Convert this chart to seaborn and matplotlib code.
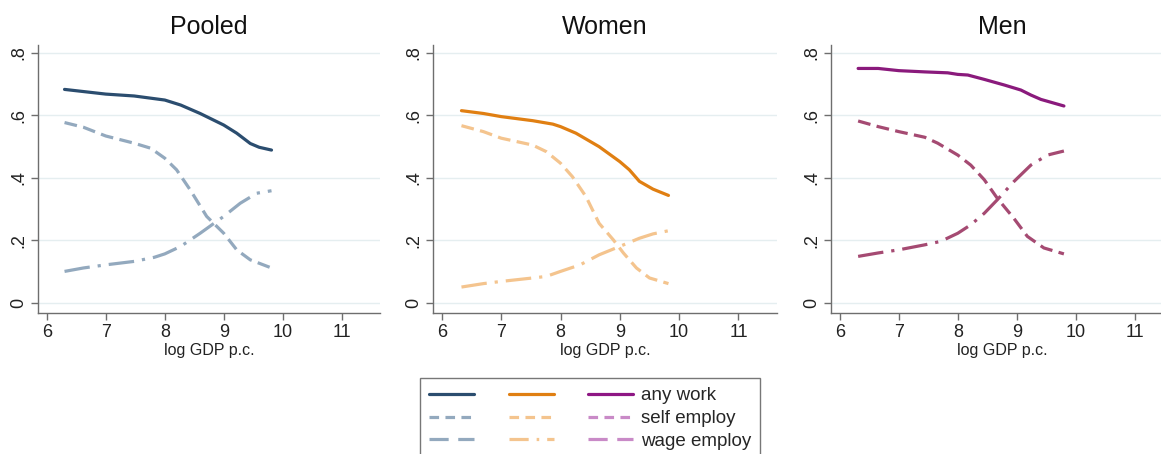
import numpy as np
import pandas as pd
import matplotlib
matplotlib.use("Agg")
import matplotlib.pyplot as plt
from matplotlib.lines import Line2D
import seaborn as sns

# ---- data: employment shares against log GDP per capita ----
panels = ["Pooled", "Women", "Men"]

pooled_any_x = [6.3, 7.0, 7.48, 8.0, 8.27, 8.6, 9.0, 9.22, 9.45, 9.6, 9.81]
pooled_any_y = [0.683, 0.668, 0.662, 0.649, 0.633, 0.606, 0.569, 0.543, 0.51, 0.498, 0.489]
pooled_self_x = [6.3, 6.62, 7.0, 7.48, 7.76, 8.0, 8.2, 8.43, 8.71, 9.0, 9.22, 9.45, 9.81]
pooled_self_y = [0.577, 0.562, 0.534, 0.511, 0.495, 0.463, 0.426, 0.362, 0.277, 0.223, 0.170, 0.138, 0.112]
pooled_wage_x = [6.3, 6.62, 7.0, 7.48, 7.82, 8.0, 8.27, 8.6, 9.0, 9.28, 9.56, 9.81]
pooled_wage_y = [0.101, 0.112, 0.122, 0.133, 0.146, 0.157, 0.181, 0.223, 0.277, 0.319, 0.351, 0.359]

women_any_x = [6.33, 6.7, 7.0, 7.53, 7.87, 8.0, 8.26, 8.65, 9.0, 9.16, 9.33, 9.56, 9.82]
women_any_y = [0.615, 0.606, 0.596, 0.583, 0.572, 0.564, 0.543, 0.5, 0.452, 0.426, 0.389, 0.364, 0.344]
women_self_x = [6.33, 6.7, 7.0, 7.53, 7.76, 8.0, 8.2, 8.43, 8.65, 8.89, 9.06, 9.28, 9.5, 9.82]
women_self_y = [0.567, 0.548, 0.527, 0.505, 0.484, 0.447, 0.404, 0.340, 0.255, 0.202, 0.160, 0.112, 0.080, 0.062]
women_wage_x = [6.33, 6.7, 7.0, 7.53, 7.76, 8.0, 8.33, 8.65, 9.0, 9.33, 9.56, 9.82]
women_wage_y = [0.051, 0.062, 0.069, 0.080, 0.085, 0.101, 0.122, 0.154, 0.181, 0.207, 0.221, 0.231]

men_any_x = [6.31, 6.65, 7.0, 7.44, 7.83, 8.0, 8.17, 8.45, 8.79, 9.07, 9.24, 9.41, 9.8]
men_any_y = [0.75, 0.75, 0.743, 0.739, 0.736, 0.731, 0.729, 0.715, 0.697, 0.681, 0.665, 0.651, 0.63]
men_self_x = [6.31, 6.65, 7.0, 7.44, 7.66, 8.0, 8.22, 8.45, 8.67, 8.95, 9.18, 9.46, 9.8]
men_self_y = [0.582, 0.564, 0.548, 0.530, 0.511, 0.473, 0.441, 0.394, 0.335, 0.271, 0.213, 0.176, 0.157]
men_wage_x = [6.31, 6.65, 7.0, 7.44, 7.71, 8.0, 8.22, 8.45, 8.67, 8.95, 9.24, 9.52, 9.8]
men_wage_y = [0.149, 0.160, 0.170, 0.186, 0.197, 0.223, 0.25, 0.287, 0.330, 0.388, 0.441, 0.473, 0.486]

series_names = ["any work", "self employ", "wage employ"]
x_ticks = [6, 7, 8, 9, 10, 11]
y_ticks = [0, 0.2, 0.4, 0.6, 0.8]
y_tick_labels = ["0", ".2", ".4", ".6", ".8"]

# colours: main line and self/wage lines per panel, plus legend swatches
line_colors = {
    "Pooled": ["#2b4d6f", "#93a9be", "#93a9be"],
    "Women": ["#e07f12", "#f4c48e", "#f4c48e"],
    "Men": ["#8a1a7c", "#a54a72", "#a54a72"],
}
legend_colors = {
    "Pooled": ["#2b4d6f", "#93a9be", "#93a9be"],
    "Women": ["#e07f12", "#f4c48e", "#f4c48e"],
    "Men": ["#8e1784", "#c98ac7", "#c98ac7"],
}
styles = ["-", (0, (4, 2)), (0, (8, 2.5, 1, 2.5))]
legend_styles = {
    "Pooled": ["-", (0, (3, 2)), (0, (6, 3))],
    "Women": ["-", (0, (3, 2)), (0, (6, 2.5, 0.8, 2.5))],
    "Men": ["-", (0, (3, 2)), (0, (6, 3))],
}

data = {
    "Pooled": [(pooled_any_x, pooled_any_y), (pooled_self_x, pooled_self_y), (pooled_wage_x, pooled_wage_y)],
    "Women": [(women_any_x, women_any_y), (women_self_x, women_self_y), (women_wage_x, women_wage_y)],
    "Men": [(men_any_x, men_any_y), (men_self_x, men_self_y), (men_wage_x, men_wage_y)],
}

sns.set_theme(style="white")
plt.rcParams["font.family"] = ["Liberation Sans", "DejaVu Sans"]

W, H = 1161, 454
fig = plt.figure(figsize=(W / 100, H / 100), dpi=100)

# axes boxes in pixels: (left, right, bottom, top)
boxes = [(38, 380, 313, 45), (433, 777, 313, 45), (831, 1173, 313, 45)]
spine_col = "#6e6e6e"

for name, (l, r, b, t) in zip(panels, boxes):
    ax = fig.add_axes([l / W, 1 - b / H, (r - l) / W, (b - t) / H])
    for (xs, ys), col, ls in zip(data[name], line_colors[name], styles):
        df = pd.DataFrame({"x": xs, "y": ys})
        sns.lineplot(data=df, x="x", y="y", ax=ax, color=col, linestyle=ls,
                     linewidth=2.3, sort=False, estimator=None, zorder=3)
    ax.set_xlim(5.85, 11.65)
    ax.set_ylim(-0.032, 0.825)
    ax.set_xticks(x_ticks)
    ax.set_xticklabels([str(v) for v in x_ticks])
    ax.set_yticks(y_ticks)
    ax.set_yticklabels(y_tick_labels, rotation=90, va="center")
    for yv in y_ticks:
        ax.axhline(yv, color="#e5eef0", linewidth=1.0, zorder=1)
    for s in ["top", "right"]:
        ax.spines[s].set_visible(False)
    for s in ["left", "bottom"]:
        ax.spines[s].set_color(spine_col)
        ax.spines[s].set_linewidth(1.0)
    ax.tick_params(axis="both", which="major", direction="out", length=5, width=1.0,
                   color=spine_col, labelsize=13, labelcolor="#222222", pad=3,
                   left=True, bottom=True)
    ax.set_xlabel("log GDP p.c.", fontsize=11.5, color="#222222", labelpad=1)
    ax.set_ylabel("")
    ax.set_title(name, fontsize=18, color="#111111", pad=8)
    ax.set_facecolor("white")

# legend: one column of swatches per panel, labels on the last column
handles, labels = [], []
for name in panels:
    for col, ls, sname in zip(legend_colors[name], legend_styles[name], series_names):
        handles.append(Line2D([], [], color=col, linestyle=ls, linewidth=2.3))
        labels.append(sname if name == "Men" else "")

leg = fig.legend(handles, labels, ncol=3, loc="upper left",
                 bbox_to_anchor=(420 / W, 1 - 378 / H), borderaxespad=0,
                 frameon=True, fancybox=False, edgecolor="#555555",
                 fontsize=13.5, handlelength=2.4, handletextpad=0.43,
                 columnspacing=1.39, labelspacing=0.3, borderpad=0.5)
leg.get_frame().set_linewidth(1.0)

fig.savefig("out.png", dpi=100, facecolor="white")
